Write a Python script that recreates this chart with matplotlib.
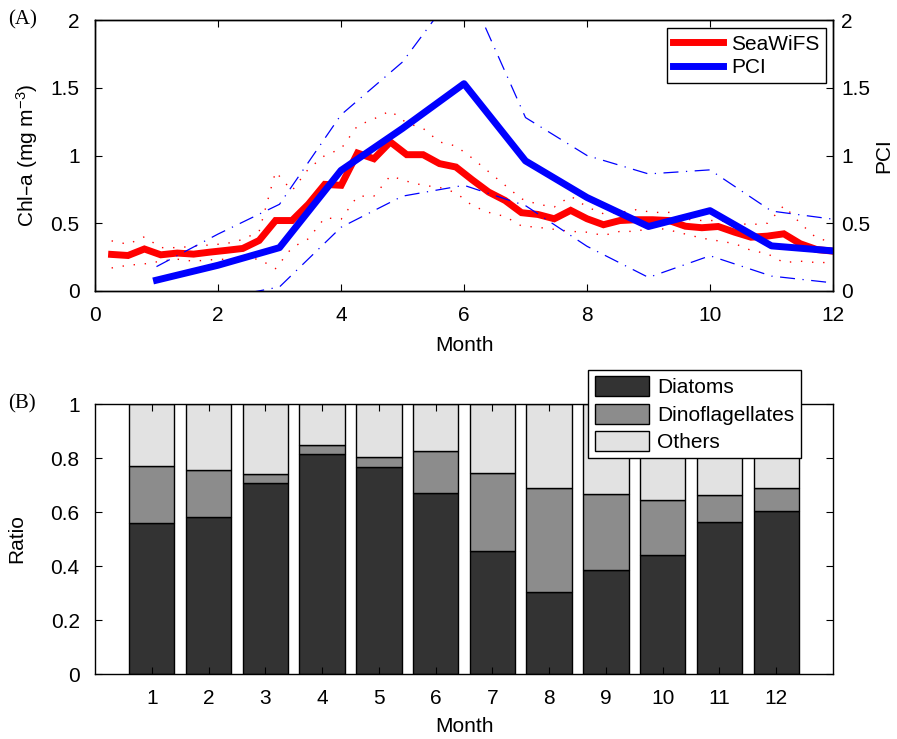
import numpy as np
import matplotlib
matplotlib.use('Agg')
import matplotlib.pyplot as plt

plt.rcParams['font.family'] = ['Liberation Sans', 'DejaVu Sans']
plt.rcParams['mathtext.default'] = 'regular'
plt.rcParams['axes.linewidth'] = 1.0

# SeaWiFS 8-day chl-a (45 composites spread over the year)
sw_month = np.linspace(0.27, 12.0, 45)
sw_chl = [0.27, 0.262, 0.31, 0.267, 0.28, 0.272, 0.287, 0.30, 0.314, 0.373,
          0.52, 0.52, 0.64, 0.787, 0.78, 1.018, 0.976, 1.10, 1.006, 1.006,
          0.94, 0.915, 0.82, 0.73, 0.668, 0.578, 0.565, 0.533, 0.595, 0.533,
          0.489, 0.52, 0.526, 0.526, 0.52, 0.478, 0.467, 0.476, 0.434, 0.397,
          0.405, 0.422, 0.349, 0.306, 0.294]
sw_hi = [0.37, 0.345, 0.40, 0.32, 0.32, 0.33, 0.34, 0.35, 0.38, 0.44,
         0.88, 0.74, 0.90, 1.0, 1.05, 1.22, 1.27, 1.33, 1.24, 1.20,
         1.10, 1.07, 0.98, 0.88, 0.78, 0.68, 0.64, 0.62, 0.70, 0.62,
         0.57, 0.58, 0.60, 0.58, 0.58, 0.53, 0.52, 0.52, 0.50, 0.49,
         0.50, 0.63, 0.50, 0.39, 0.36]
sw_lo = [0.17, 0.19, 0.20, 0.22, 0.235, 0.22, 0.23, 0.235, 0.24, 0.235,
         0.165, 0.32, 0.385, 0.54, 0.53, 0.70, 0.70, 0.85, 0.81, 0.78,
         0.765, 0.725, 0.63, 0.58, 0.55, 0.48, 0.47, 0.455, 0.44, 0.434,
         0.41, 0.44, 0.44, 0.47, 0.45, 0.42, 0.39, 0.37, 0.35, 0.30,
         0.275, 0.21, 0.22, 0.21, 0.21]

# monthly PCI
pci_month = [1, 2, 3, 4, 5, 6, 7, 8, 9, 10, 11, 12]
pci = [0.08, 0.19, 0.32, 0.89, 1.20, 1.53, 0.96, 0.69, 0.476, 0.593, 0.333, 0.296]
pci_hi = [0.18, 0.42, 0.64, 1.30, 1.69, 2.30, 1.28, 1.00, 0.864, 0.894, 0.59, 0.53]
pci_lo = [-0.10, -0.058, 0.03, 0.47, 0.70, 0.78, 0.63, 0.33, 0.10, 0.26, 0.11, 0.06]

# phytoplankton composition
months = [1, 2, 3, 4, 5, 6, 7, 8, 9, 10, 11, 12]
diatoms = [0.558, 0.580, 0.709, 0.816, 0.765, 0.670, 0.454, 0.302, 0.385, 0.442, 0.563, 0.602]
dino_top = [0.772, 0.756, 0.742, 0.847, 0.802, 0.825, 0.746, 0.688, 0.665, 0.643, 0.662, 0.690]
dinos = [t - d for t, d in zip(dino_top, diatoms)]
others = [1 - t for t in dino_top]

fs = 15
fig = plt.figure(figsize=(8.97, 7.39), dpi=100)

# ---- panel A
ax = fig.add_axes([95 / 897, 1 - 291 / 739, 738 / 897, 271 / 739])
ax.plot(sw_month, sw_hi, color='red', lw=1.0, ls=(0, (1, 7)))
ax.plot(sw_month, sw_lo, color='red', lw=1.0, ls=(0, (1, 7)))
l1, = ax.plot(sw_month, sw_chl, color='red', lw=5, solid_joinstyle='miter')
ax.set_xlim(0, 12)
ax.set_ylim(0, 2)
ax.set_xticks(range(0, 13, 2))
ax.set_yticks([0, 0.5, 1, 1.5, 2])
ax.set_yticklabels(['0', '0.5', '1', '1.5', '2'])
ax.tick_params(direction='in', length=5, labelsize=fs, top=True, right=False, pad=11)
ax.set_xlabel('Month', fontsize=fs)
ax.xaxis.set_label_coords(0.5, -0.165)
ax.set_ylabel('Chl\u2013a (mg m$^{-3}$)', fontsize=fs)
ax.yaxis.set_label_coords(-0.075, 0.5)

axr = ax.twinx()
axr.plot(pci_month, pci_hi, color='blue', lw=0.9, ls=(0, (12, 6, 1, 6)))
axr.plot(pci_month, pci_lo, color='blue', lw=0.9, ls=(0, (12, 6, 1, 6)))
l2, = axr.plot(pci_month, pci, color='blue', lw=5)
axr.set_ylim(0, 2)
axr.set_yticks([0, 0.5, 1, 1.5, 2])
axr.set_yticklabels(['0', '0.5', '1', '1.5', '2'])
axr.tick_params(direction='in', length=5, labelsize=fs, pad=6)
axr.set_ylabel('PCI', fontsize=fs)
axr.yaxis.set_label_coords(1.056, 0.5)

leg = axr.legend([l1, l2], ['SeaWiFS', 'PCI'], loc='upper right',
                 bbox_to_anchor=(0.9905, 0.969), borderaxespad=0, fontsize=fs,
                 fancybox=False, edgecolor='black', framealpha=1,
                 handlelength=2.4, labelspacing=0.2, borderpad=0.3, handletextpad=0.4)
leg.get_frame().set_linewidth(1.0)

fig.text(8 / 897, 1 - 20 / 739, '(A)', family=['Liberation Serif'], fontsize=fs, va='center')

# ---- panel B
bx = fig.add_axes([95 / 897, 1 - 674 / 739, 738 / 897, 270 / 739])
bx.bar(months, diatoms, width=0.8, color='#333333', edgecolor='black', lw=1.0, label='Diatoms')
bx.bar(months, dinos, width=0.8, bottom=diatoms, color='#8c8c8c', edgecolor='black', lw=1.0,
       label='Dinoflagellates')
bx.bar(months, others, width=0.8, bottom=dino_top, color='#e2e2e2', edgecolor='black', lw=1.0,
       label='Others')
bx.set_xlim(0, 13)
bx.set_ylim(0, 1)
bx.set_xticks(months)
bx.set_yticks([0, 0.2, 0.4, 0.6, 0.8, 1])
bx.set_yticklabels(['0', '0.2', '0.4', '0.6', '0.8', '1'])
bx.tick_params(direction='in', length=5, labelsize=fs, top=True, right=True, pad=11)
bx.set_xlabel('Month', fontsize=fs)
bx.xaxis.set_label_coords(0.5, -0.16)
bx.set_ylabel('Ratio', fontsize=fs)
bx.yaxis.set_label_coords(-0.093, 0.5)

leg2 = bx.legend(loc='upper right', bbox_to_anchor=(0.956, 1.126), borderaxespad=0,
                 fontsize=fs, fancybox=False, edgecolor='black', framealpha=1,
                 handlelength=2.6, handleheight=1.1, labelspacing=0.3,
                 borderpad=0.3, handletextpad=0.4)
leg2.get_frame().set_linewidth(1.0)
leg2.set_zorder(5)

fig.text(8 / 897, 1 - 404 / 739, '(B)', family=['Liberation Serif'], fontsize=fs, va='center')

fig.savefig('out.png', dpi=100)
